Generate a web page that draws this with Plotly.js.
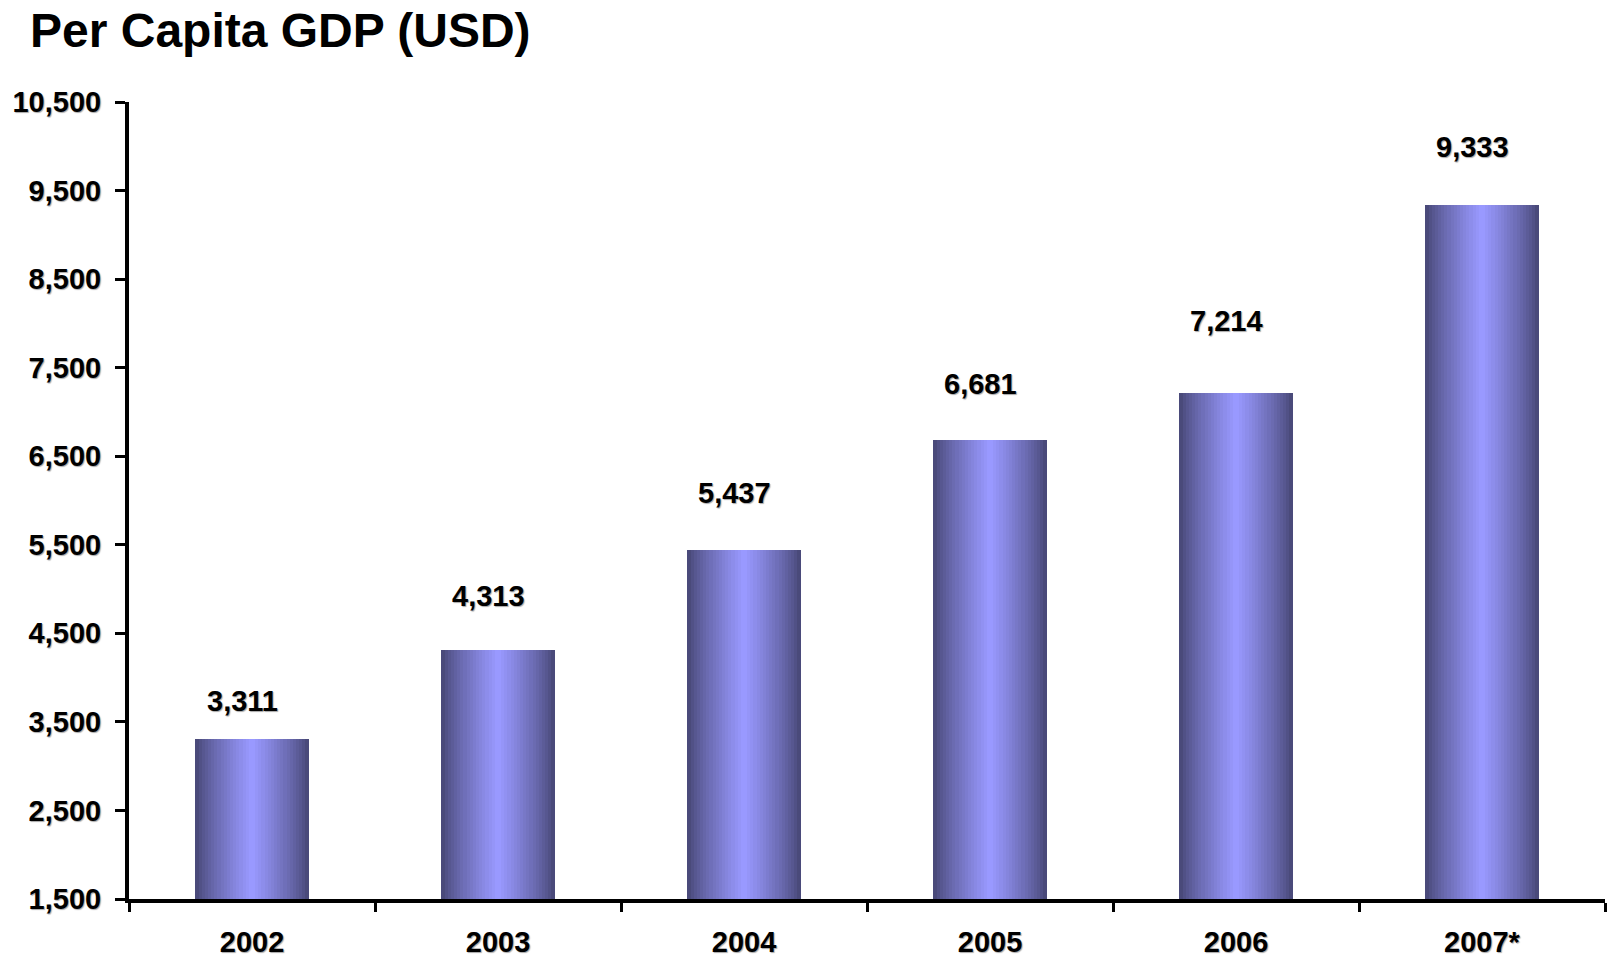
<!DOCTYPE html>
<html>
<head>
<meta charset="utf-8">
<script src="https://cdn.plot.ly/plotly-3.0.1.min.js"></script>
<style>
  html, body { margin: 0; padding: 0; background: #ffffff; }
  #chart { width: 1608px; height: 960px; }
</style>
</head>
<body>
<div id="chart"></div>
<script>
// ---- Data ----
const years = ["2002", "2003", "2004", "2005", "2006", "2007*"];
const gdpPerCapita = [3311, 4313, 5437, 6681, 7214, 9333];
const yTickValues = [1500, 2500, 3500, 4500, 5500, 6500, 7500, 8500, 9500, 10500];
const chartTitle = "Per Capita GDP (USD)";

// ---- Styling ----
const FONT = "'Liberation Sans', Arial, Helvetica, sans-serif";
const edgeColor = [74, 74, 122];
const centerColor = [153, 153, 255];
const barWidth = 0.46;
const steps = 18;
const labelLift = [38, 54, 57, 56, 72, 58]; // label offsets above bars (px)

const traces = [];
for (let k = 0; k < steps; k++) {
  const t = k / (steps - 1);
  const c = edgeColor.map((e, i) => Math.round(e + (centerColor[i] - e) * Math.pow(t, 0.85)));
  traces.push({
    type: "bar",
    x: years,
    y: gdpPerCapita,
    width: barWidth * (1 - k / steps),
    marker: { color: `rgb(${c[0]},${c[1]},${c[2]})`, line: { width: 0 } },
    hoverinfo: "skip",
    showlegend: false
  });
}

const shadow = "1px 1px 1px rgba(0,0,0,0.35)";

const annotations = years.map((yr, i) => ({
  x: i, // category index on the category axis
  y: gdpPerCapita[i],
  xref: "x",
  yref: "y",
  text: gdpPerCapita[i].toLocaleString("en-US"),
  showarrow: false,
  yanchor: "middle",
  xanchor: "center",
  xshift: -10,
  yshift: labelLift[i],
  font: { family: FONT, size: 29, color: "#000000", weight: "bold", shadow: shadow }
}));

const layout = {
  width: 1608,
  height: 960,
  paper_bgcolor: "#ffffff",
  plot_bgcolor: "#ffffff",
  barmode: "overlay",
  bargap: 0,
  margin: { l: 129, r: 3, t: 102, b: 61 },
  title: {
    text: chartTitle,
    font: { family: FONT, size: 48, color: "#000000", weight: "bold" },
    xref: "container",
    yref: "container",
    x: 30 / 1608,
    xanchor: "left",
    y: 1 - 30 / 960,
    yanchor: "middle"
  },
  xaxis: {
    type: "category",
    range: [-0.5, years.length - 0.5],
    tickson: "boundaries",
    ticks: "outside",
    ticklen: 9,
    tickwidth: 3,
    tickcolor: "#000000",
    showline: true,
    linewidth: 4,
    linecolor: "#000000",
    showgrid: false,
    zeroline: false,
    ticklabelstandoff: 14,
    tickfont: { family: FONT, size: 29, color: "#000000", weight: "bold", shadow: shadow },
    fixedrange: true
  },
  yaxis: {
    range: [1500, 10500],
    tickvals: yTickValues,
    tickformat: ",",
    ticks: "outside",
    ticklen: 10,
    tickwidth: 3,
    tickcolor: "#000000",
    showline: true,
    linewidth: 4,
    linecolor: "#000000",
    showgrid: false,
    zeroline: false,
    ticklabelstandoff: 8,
    tickfont: { family: FONT, size: 29, color: "#000000", weight: "bold", shadow: shadow },
    fixedrange: true
  },
  annotations: annotations
};

Plotly.newPlot("chart", traces, layout, { displayModeBar: false, staticPlot: true });
</script>
</body>
</html>
